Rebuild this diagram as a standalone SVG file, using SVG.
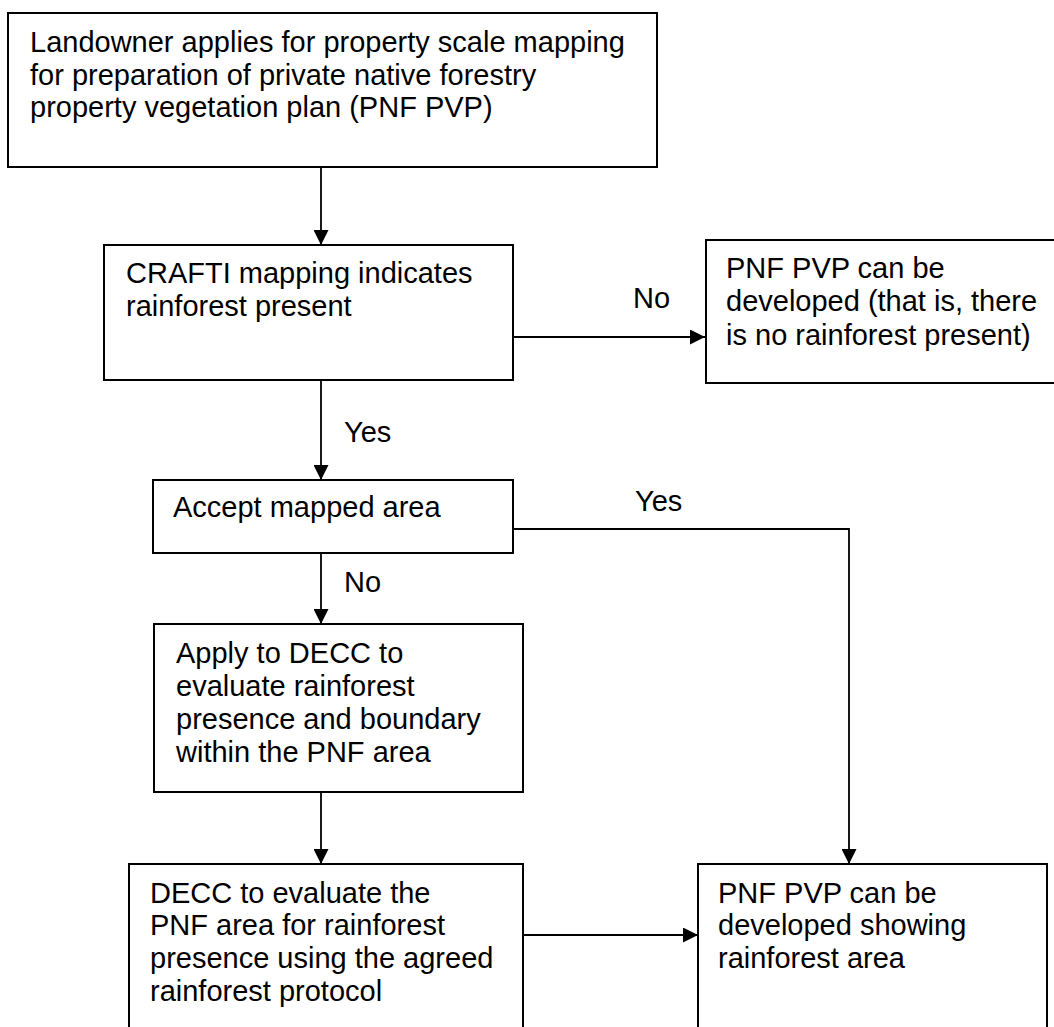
<svg xmlns="http://www.w3.org/2000/svg" width="1054" height="1027" viewBox="0 0 1054 1027">
<style>
.box{fill:#fff;stroke:#000;stroke-width:2}
.t{font-family:"Liberation Sans",Arial,sans-serif;font-size:29px;fill:#000}
.c{fill:none;stroke:#000;stroke-width:1.8}
</style>
<defs>
<marker id="ah" viewBox="0 0 10 10" refX="10" refY="5" markerUnits="userSpaceOnUse" markerWidth="15" markerHeight="15" orient="auto">
<path d="M0,0 L10,5 L0,10 Z" fill="#000"/>
</marker>
</defs>
<rect width="1054" height="1027" fill="#fff"/>
<g id="connectors">
<line class="c" x1="321" y1="167" x2="321" y2="245" marker-end="url(#ah)"/>
<line class="c" x1="513" y1="337" x2="705" y2="337" marker-end="url(#ah)"/>
<line class="c" x1="321" y1="380" x2="321" y2="480" marker-end="url(#ah)"/>
<polyline class="c" points="513,529 849,529 849,864" marker-end="url(#ah)"/>
<line class="c" x1="321" y1="553" x2="321" y2="624" marker-end="url(#ah)"/>
<line class="c" x1="321" y1="792" x2="321" y2="864" marker-end="url(#ah)"/>
<line class="c" x1="523" y1="935" x2="698" y2="935" marker-end="url(#ah)"/>
<text class="t" x="633" y="308">No</text>
<text class="t" x="344" y="442">Yes</text>
<text class="t" x="635" y="511">Yes</text>
<text class="t" x="344" y="592">No</text>
</g>
<g id="n1">
<rect class="box" x="8" y="13" width="649" height="154"/>
<text class="t" x="30" y="52">Landowner applies for property scale mapping</text>
<text class="t" x="30" y="85">for preparation of private native forestry</text>
<text class="t" x="30" y="117">property vegetation plan (PNF PVP)</text>
</g>
<g id="n2">
<rect class="box" x="104" y="245" width="409" height="135"/>
<text class="t" x="126" y="283">CRAFTI mapping indicates</text>
<text class="t" x="126" y="316">rainforest present</text>
</g>
<g id="n3">
<rect class="box" x="706" y="240" width="360" height="143"/>
<text class="t" x="726" y="278">PNF PVP can be</text>
<text class="t" x="726" y="311">developed (that is, there</text>
<text class="t" x="726" y="345">is no rainforest present)</text>
</g>
<g id="n4">
<rect class="box" x="153" y="480" width="360" height="73"/>
<text class="t" x="173" y="517">Accept mapped area</text>
</g>
<g id="n5">
<rect class="box" x="154" y="624" width="369" height="168"/>
<text class="t" x="176" y="663">Apply to DECC to</text>
<text class="t" x="176" y="696">evaluate rainforest</text>
<text class="t" x="176" y="729">presence and boundary</text>
<text class="t" x="176" y="762">within the PNF area</text>
</g>
<g id="n6">
<rect class="box" x="129" y="864" width="394" height="180"/>
<text class="t" x="150" y="903">DECC to evaluate the</text>
<text class="t" x="150" y="935">PNF area for rainforest</text>
<text class="t" x="150" y="968">presence using the agreed</text>
<text class="t" x="150" y="1001">rainforest protocol</text>
</g>
<g id="n7">
<rect class="box" x="698" y="864" width="349" height="180"/>
<text class="t" x="718" y="903">PNF PVP can be</text>
<text class="t" x="718" y="935">developed showing</text>
<text class="t" x="718" y="968">rainforest area</text>
</g>
</svg>
